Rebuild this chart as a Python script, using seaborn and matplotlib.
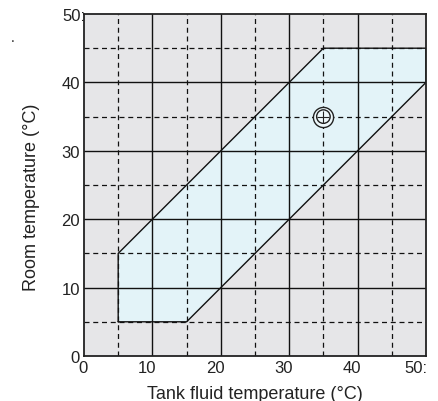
import matplotlib
matplotlib.use("Agg")
import matplotlib.pyplot as plt
from matplotlib.transforms import ScaledTranslation
import seaborn as sns
import pandas as pd

# Data
region_x = [5, 15, 50, 50, 35, 5, 5]
region_y = [5, 5, 40, 45, 45, 15, 5]
point_x = [35]
point_y = [35]
x_ticks = [0, 10, 20, 30, 40, 50]
y_ticks = [0, 10, 20, 30, 40, 50]
x_ticklabels = ["0", "10", "20", "30", "40", "50:"]
y_ticklabels = ["0", "10", "20", "30", "40", "50:"]
minor_ticks = [5, 15, 25, 35, 45]

sns.set_theme(style="white")
plt.rcParams['font.family'] = ['Liberation Sans', 'DejaVu Sans']

fig = plt.figure(figsize=(4.38, 4.02), dpi=100)
ax = fig.add_axes([84/438, 45/402, 342/438, 342/402])
ax.set_facecolor('#e6e6e8')

ax.fill(region_x, region_y, facecolor='#e3f3f8', edgecolor='none', zorder=1)

for v in x_ticks[1:-1]:
    ax.axvline(v, color='#111111', lw=1.0, zorder=2)
for v in y_ticks[1:-1]:
    ax.axhline(v, color='#111111', lw=1.0, zorder=2)
for v in minor_ticks:
    ax.axvline(v, color='#111111', lw=0.9, ls=(0, (4, 3)), zorder=2)
    ax.axhline(v, color='#111111', lw=0.9, ls=(0, (4, 3)), zorder=2)

df = pd.DataFrame({'x': region_x, 'y': region_y})
sns.lineplot(data=df, x='x', y='y', sort=False, estimator=None, color='#111111', lw=1.0, ax=ax, zorder=3)

pt = pd.DataFrame({'x': point_x, 'y': point_y})
sns.scatterplot(data=pt, x='x', y='y', marker='o', s=210, facecolor='#eef8fb', edgecolor='#222222', linewidth=1.0, ax=ax, zorder=4)
sns.scatterplot(data=pt, x='x', y='y', marker='o', s=95, facecolor='none', edgecolor='#222222', linewidth=1.0, ax=ax, zorder=5)
sns.scatterplot(data=pt, x='x', y='y', marker='+', s=70, color='#222222', linewidth=0.8, ax=ax, zorder=6)

ax.set_xlim(0, 50)
ax.set_ylim(0, 50)
ax.set_xticks(x_ticks)
ax.set_xticklabels(x_ticklabels)
ax.set_yticks(y_ticks)
ax.set_yticklabels(y_ticklabels)
ax.tick_params(axis='x', length=0, labelsize=12, colors='#222222', pad=3.2)
ax.tick_params(axis='y', length=0, labelsize=12, colors='#222222', pad=2.9)

for lab in ax.get_xticklabels():
    lab.set_horizontalalignment('right')
    dx = 1.5 if lab.get_text().endswith(':') else 3.5
    lab.set_transform(lab.get_transform() + ScaledTranslation(dx/100, 0, fig.dpi_scale_trans))
for lab in ax.get_yticklabels():
    if lab.get_text().endswith(':'):
        lab.set_transform(lab.get_transform() + ScaledTranslation(5/100, 0, fig.dpi_scale_trans))

ax.set_xlabel('Tank fluid temperature (°C)', fontsize=13, color='#222222')
ax.xaxis.set_label_coords(0.5, -0.085)
ax.set_ylabel('Room temperature (°C)', fontsize=13, color='#222222')
ax.yaxis.set_label_coords(-0.128, 0.468)
for s in ax.spines.values():
    s.set_visible(True)
    s.set_color('#222222')
    s.set_linewidth(1.3)
    s.set_zorder(7)

fig.text(13/438, 1 - 38/402, '.', fontsize=10, color='#222222', ha='center', va='center')

fig.savefig('out.png', dpi=100)
